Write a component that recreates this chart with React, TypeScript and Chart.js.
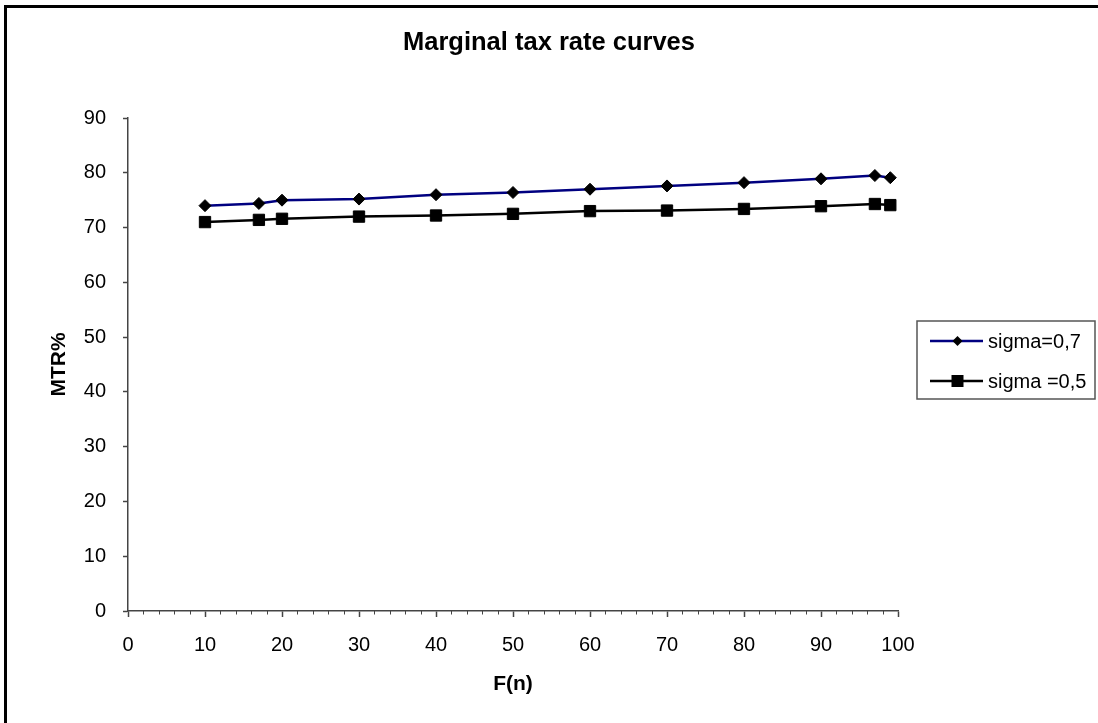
import React, { useEffect, useRef } from "react";
import { Chart, registerables } from "chart.js";

Chart.register(...registerables);

const chartTitle = "Marginal tax rate curves";
const xAxisTitle = "F(n)";
const yAxisTitle = "MTR%";
const seriesNames = ["sigma=0,7", "sigma =0,5"];
const fnValues = [10, 17, 20, 30, 40, 50, 60, 70, 80, 90, 97, 99];
const sigma07 = [74.0, 74.4, 75.0, 75.2, 76.0, 76.4, 77.0, 77.6, 78.2, 78.9, 79.5, 79.1];
const sigma05 = [71.0, 71.4, 71.6, 72.0, 72.2, 72.5, 73.0, 73.1, 73.4, 73.9, 74.3, 74.1];
const xMin = 0;
const xMax = 100;
const xStep = 10;
const xMinorStep = 2;
const yMin = 0;
const yMax = 90;
const yStep = 10;

const FONT = "'Liberation Sans', Arial, sans-serif";
const AXIS_COLOR = "#444";

const minorTicksPlugin = {
  id: "minorTicks",
  afterDraw(chart: any) {
    const sx = chart.scales.x;
    const ctx = chart.ctx;
    const y0 = sx.top;
    ctx.save();
    ctx.strokeStyle = AXIS_COLOR;
    ctx.lineWidth = 1;
    for (let v = xMin; v <= xMax; v += xMinorStep) {
      if (v % xStep === 0) continue;
      const px = Math.round(sx.getPixelForValue(v)) + 0.5;
      ctx.beginPath();
      ctx.moveTo(px, y0);
      ctx.lineTo(px, y0 + 3.5);
      ctx.stroke();
    }
    ctx.restore();
  },
};

const boxLegendPlugin = {
  id: "boxLegend",
  afterDraw(chart: any) {
    const ctx = chart.ctx;
    const bx = 917, by = 321, bw = 178, bh = 78;
    ctx.save();
    ctx.strokeStyle = "#555";
    ctx.lineWidth = 1.5;
    ctx.strokeRect(bx, by, bw, bh);
    const rows = [341, 381];
    chart.data.datasets.forEach((ds: any, i: number) => {
      const y = rows[i];
      ctx.strokeStyle = ds.borderColor;
      ctx.lineWidth = 2.5;
      ctx.beginPath();
      ctx.moveTo(930, y);
      ctx.lineTo(983, y);
      ctx.stroke();
      ctx.fillStyle = "#000";
      const mx = 957.5;
      ctx.beginPath();
      if (ds.pointStyle === "rectRot") {
        const r = 5;
        ctx.moveTo(mx - r, y);
        ctx.lineTo(mx, y - r);
        ctx.lineTo(mx + r, y);
        ctx.lineTo(mx, y + r);
        ctx.closePath();
      } else {
        const h = 6;
        ctx.rect(mx - h, y - h, 2 * h, 2 * h);
      }
      ctx.fill();
      ctx.fillStyle = "#000";
      ctx.font = `20px ${FONT}`;
      ctx.textBaseline = "middle";
      ctx.textAlign = "left";
      ctx.fillText(ds.label, 988, y + 1);
    });
    ctx.restore();
  },
};

export default function App() {
  const canvasRef = useRef<HTMLCanvasElement | null>(null);

  useEffect(() => {
    if (!canvasRef.current) return;
    const mk = (ys: number[]) => fnValues.map((x, i) => ({ x, y: ys[i] }));
    const chart = new Chart(canvasRef.current, {
      type: "line",
      data: {
        datasets: [
          {
            label: seriesNames[0],
            data: mk(sigma07),
            borderColor: "#000080",
            borderWidth: 2.5,
            pointStyle: "rectRot",
            pointRadius: 6,
            pointBackgroundColor: "#000",
            pointBorderColor: "#000",
            pointBorderWidth: 1,
            tension: 0,
          },
          {
            label: seriesNames[1],
            data: mk(sigma05),
            borderColor: "#000",
            borderWidth: 2.5,
            pointStyle: "rect",
            pointRadius: 8,
            pointBackgroundColor: "#000",
            pointBorderColor: "#000",
            pointBorderWidth: 1,
            tension: 0,
          },
        ],
      },
      options: {
        animation: false,
        responsive: false,
        devicePixelRatio: 1,
        layout: { padding: { left: 0, right: 0, top: 0, bottom: 0 } },
        plugins: {
          legend: { display: false },
          tooltip: { enabled: false },
          title: {
            display: true,
            text: chartTitle,
            color: "#000",
            font: { family: FONT, size: 25.5, weight: "bold" },
            padding: { top: 27.7, bottom: 59.7 },
          },
        },
        scales: {
          x: {
            type: "linear",
            min: xMin,
            max: xMax,
            afterFit(scale: any) {
              scale.height = 112;
            },
            ticks: {
              stepSize: xStep,
              color: "#000",
              padding: 16,
              maxRotation: 0,
              font: { family: FONT, size: 20 },
            },
            grid: {
              display: true,
              drawOnChartArea: false,
              drawTicks: true,
              tickLength: 6,
              tickColor: AXIS_COLOR,
              tickWidth: 1.5,
            },
            border: { display: true, color: AXIS_COLOR, width: 1.5 },
            title: {
              display: true,
              text: xAxisTitle,
              color: "#000",
              font: { family: FONT, size: 21, weight: "bold" },
              padding: { top: 0, bottom: 26.4 },
            },
          },
          y: {
            type: "linear",
            min: yMin,
            max: yMax,
            afterFit(scale: any) {
              scale.width = 128;
            },
            ticks: {
              stepSize: yStep,
              color: "#000",
              padding: 17,
              font: { family: FONT, size: 20 },
            },
            grid: {
              display: true,
              drawOnChartArea: false,
              drawTicks: true,
              tickLength: 5,
              tickColor: AXIS_COLOR,
              tickWidth: 1.5,
            },
            border: { display: true, color: AXIS_COLOR, width: 1.5 },
            title: {
              display: true,
              text: yAxisTitle,
              color: "#000",
              font: { family: FONT, size: 21, weight: "bold" },
              padding: { top: 46.4, bottom: 0 },
            },
          },
          spacer: {
            type: "linear",
            position: "right",
            display: true,
            min: yMin,
            max: yMax,
            afterFit(scale: any) {
              scale.width = 200;
            },
            ticks: { display: false },
            grid: { display: false, drawTicks: false },
            border: { display: false },
            title: { display: false },
          },
        },
      },
      plugins: [minorTicksPlugin, boxLegendPlugin],
    });
    return () => chart.destroy();
  }, []);

  return (
    <div
      style={{
        position: "absolute",
        left: 0,
        top: 0,
        width: 1098,
        height: 723,
        overflow: "hidden",
        background: "#fff",
      }}
    >
      <div
        style={{
          position: "absolute",
          left: 4,
          top: 5,
          width: 1200,
          height: 800,
          borderLeft: "3px solid #000",
          borderTop: "3px solid #000",
          boxSizing: "border-box",
        }}
      />
      <canvas
        ref={canvasRef}
        width={1098}
        height={723}
        style={{ position: "absolute", left: 0, top: 0, width: 1098, height: 723 }}
      />
    </div>
  );
}
